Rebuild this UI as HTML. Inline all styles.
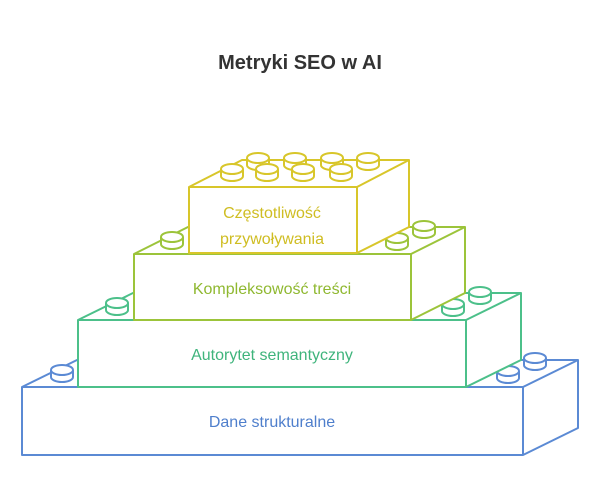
<!DOCTYPE html>
<html><head><meta charset="utf-8"><style>
html,body{margin:0;padding:0;background:#fff;}
svg{display:block;}
text{font-family:"Liberation Sans",sans-serif;}
</style></head><body>
<svg width="600" height="499" viewBox="0 0 600 499" xmlns="http://www.w3.org/2000/svg">
<defs>
<g id="stud"><path d="M-11,0 L-11,7 A11,5 0 0 0 11,7 L11,0" fill="#fff"/><ellipse cx="0" cy="0" rx="11" ry="5" fill="#fff"/></g>
</defs>
<text x="300" y="69" text-anchor="middle" font-size="20" font-weight="bold" fill="#333">Metryki SEO w AI</text>

<!-- blue -->
<g stroke="#5b8ad4" stroke-width="2" fill="#fff" stroke-linejoin="round">
<polygon points="22,387 77,360 578,360 578,428 523,455 22,455"/>
<polyline points="22,387 523,387 578,360" fill="none"/>
<line x1="523" y1="387" x2="523" y2="455"/>
<g transform="translate(62,370)"><path d="M-11,0 L-11,7 A11,5 0 0 0 11,7 L11,0"/><ellipse rx="11" ry="5"/></g>
<g transform="translate(535,358)"><path d="M-11,0 L-11,7 A11,5 0 0 0 11,7 L11,0"/><ellipse rx="11" ry="5"/></g>
<g transform="translate(508,371)"><path d="M-11,0 L-11,7 A11,5 0 0 0 11,7 L11,0"/><ellipse rx="11" ry="5"/></g>
</g>
<text x="272" y="427" text-anchor="middle" font-size="16" fill="#4f7fcc">Dane strukturalne</text>

<!-- green -->
<g stroke="#4cc08a" stroke-width="2" fill="#fff" stroke-linejoin="round">
<polygon points="78,320 133,293 521,293 521,360 466,387 78,387"/>
<polyline points="78,320 466,320 521,293" fill="none"/>
<line x1="466" y1="320" x2="466" y2="387"/>
<g transform="translate(117,303)"><path d="M-11,0 L-11,7 A11,5 0 0 0 11,7 L11,0"/><ellipse rx="11" ry="5"/></g>
<g transform="translate(480,292)"><path d="M-11,0 L-11,7 A11,5 0 0 0 11,7 L11,0"/><ellipse rx="11" ry="5"/></g>
<g transform="translate(453,304)"><path d="M-11,0 L-11,7 A11,5 0 0 0 11,7 L11,0"/><ellipse rx="11" ry="5"/></g>
</g>
<text x="272" y="360" text-anchor="middle" font-size="16" fill="#3fb47c">Autorytet semantyczny</text>

<!-- yellow-green -->
<g stroke="#9cc43a" stroke-width="2" fill="#fff" stroke-linejoin="round">
<polygon points="134,254 188,227 465,227 465,293 411,320 134,320"/>
<polyline points="134,254 411,254 465,227" fill="none"/>
<line x1="411" y1="254" x2="411" y2="320"/>
<g transform="translate(172,237)"><path d="M-11,0 L-11,7 A11,5 0 0 0 11,7 L11,0"/><ellipse rx="11" ry="5"/></g>
<g transform="translate(424,226)"><path d="M-11,0 L-11,7 A11,5 0 0 0 11,7 L11,0"/><ellipse rx="11" ry="5"/></g>
<g transform="translate(397,238)"><path d="M-11,0 L-11,7 A11,5 0 0 0 11,7 L11,0"/><ellipse rx="11" ry="5"/></g>
</g>
<text x="272" y="294" text-anchor="middle" font-size="16" fill="#8fb830">Kompleksowość treści</text>

<!-- yellow -->
<g stroke="#d8c62a" stroke-width="2" fill="#fff" stroke-linejoin="round">
<polygon points="189,187 242,160 409,160 409,227 357,253 189,253"/>
<polyline points="189,187 357,187 409,160" fill="none"/>
<line x1="357" y1="187" x2="357" y2="253"/>
<g transform="translate(258,158)"><path d="M-11,0 L-11,7 A11,5 0 0 0 11,7 L11,0"/><ellipse rx="11" ry="5"/></g>
<g transform="translate(295,158)"><path d="M-11,0 L-11,7 A11,5 0 0 0 11,7 L11,0"/><ellipse rx="11" ry="5"/></g>
<g transform="translate(332,158)"><path d="M-11,0 L-11,7 A11,5 0 0 0 11,7 L11,0"/><ellipse rx="11" ry="5"/></g>
<g transform="translate(368,158)"><path d="M-11,0 L-11,7 A11,5 0 0 0 11,7 L11,0"/><ellipse rx="11" ry="5"/></g>
<g transform="translate(232,169)"><path d="M-11,0 L-11,7 A11,5 0 0 0 11,7 L11,0"/><ellipse rx="11" ry="5"/></g>
<g transform="translate(267,169)"><path d="M-11,0 L-11,7 A11,5 0 0 0 11,7 L11,0"/><ellipse rx="11" ry="5"/></g>
<g transform="translate(303,169)"><path d="M-11,0 L-11,7 A11,5 0 0 0 11,7 L11,0"/><ellipse rx="11" ry="5"/></g>
<g transform="translate(341,169)"><path d="M-11,0 L-11,7 A11,5 0 0 0 11,7 L11,0"/><ellipse rx="11" ry="5"/></g>
</g>
<text x="272" y="218" text-anchor="middle" font-size="16" fill="#cfbd22">Częstotliwość</text>
<text x="272" y="244" text-anchor="middle" font-size="16" fill="#cfbd22">przywoływania</text>
</svg>
</body></html>
